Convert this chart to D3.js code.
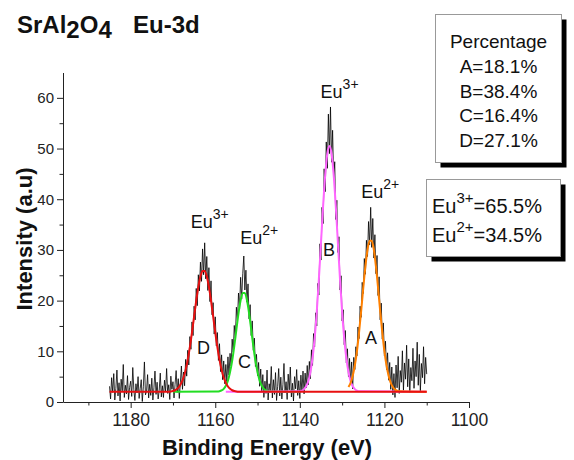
<!DOCTYPE html>
<html>
<head>
<meta charset="utf-8">
<script src="https://cdn.jsdelivr.net/npm/d3@7"></script>
<style>
  body { margin: 0; background: #fff; }
  text { font-family: "Liberation Sans", Arial, sans-serif; }
</style>
</head>
<body>
<script>
// raw spectrum, 1185 -> 1110 eV in 0.25 eV steps
const energyStart = 1185;
const energyStep = 0.25;
const intensity = [
  3.1, 0.6, 4.8, 1.9, 5.6, 0.4, 2.7, 6.3, 1.2, 3.8, 0.2, 4.5, 2.2, 7.4, 0.9, 3.3, 1.6, 5.2, 0.5, 2.9,
  4.1, 1.1, 6.8, 2.4, 0.3, 3.6, 1.8, 5.0, 0.7, 2.6, 4.4, 0.1, 3.0, 7.9, 1.4, 2.1, 5.4, 0.8, 3.5, 1.3,
  4.7, 0.4, 2.8, 6.1, 1.5, 3.9, 0.6, 2.3, 5.7, 1.0, 3.2, 0.9, 4.3, 2.0, 6.6, 1.7, 3.4, 0.5, 5.1, 2.5,
  4.0, 0.8, 3.5, 6.2, 1.9, 4.6, 0.7, 3.8, 7.1, 2.5, 5.9, 3.2, 8.4, 5.1, 10.2, 7.3, 12.9, 10.4, 15.8, 13.1,
  18.9, 16.2, 22.4, 19.0, 25.1, 21.9, 27.6, 23.8, 30.2, 25.1, 31.4, 24.3, 28.7, 22.0, 26.5, 19.8, 23.9, 17.2, 19.6, 13.4,
  16.8, 11.1, 13.7, 8.2, 11.5, 6.0, 9.3, 4.4, 8.1, 3.6, 7.4, 4.0, 8.9, 5.3, 9.6, 7.1, 12.4, 9.8, 15.1, 12.6,
  18.7, 16.0, 21.5, 18.4, 24.6, 20.3, 25.3, 28.8, 22.1, 26.0, 19.7, 23.3, 16.4, 19.2, 13.1, 16.0, 10.2, 12.6, 7.0, 9.4,
  5.2, 7.8, 3.1, 6.5, 2.0, 5.4, 0.9, 4.1, 1.7, 6.3, 0.4, 3.6, 2.2, 7.0, 0.8, 4.4, 1.5, 5.8, 0.3, 3.1,
  6.6, 1.2, 4.9, 0.6, 3.4, 7.6, 1.8, 4.0, 0.5, 5.5, 2.4, 6.9, 1.0, 3.7, 0.2, 5.0, 2.6, 6.4, 1.3, 4.2,
  0.7, 5.3, 2.0, 6.1, 1.6, 5.7, 2.8, 7.2, 3.4, 8.0, 4.6, 10.3, 7.2, 13.5, 10.9, 17.6, 15.0, 23.4, 21.1, 31.2,
  28.0, 38.4, 35.2, 46.0, 41.5, 51.3, 46.1, 56.8, 49.0, 58.2, 47.3, 53.6, 43.9, 47.4, 36.0, 39.8, 29.5, 32.6, 22.1, 24.9,
  16.0, 18.2, 11.3, 14.1, 7.7, 10.5, 5.0, 8.6, 3.8, 7.9, 2.6, 8.8, 6.4, 10.9, 9.1, 14.8, 12.5, 18.9, 16.7, 23.6,
  21.4, 28.3, 25.2, 31.9, 28.7, 35.6, 31.0, 38.4, 30.5, 36.2, 28.4, 33.0, 25.3, 28.9, 21.0, 24.7, 16.2, 19.5, 12.4, 15.6,
  9.1, 12.0, 6.4, 9.7, 4.3, 7.8, 2.5, 6.9, 1.4, 5.6, 0.9, 7.3, 2.8, 9.0, 1.7, 6.2, 3.9, 10.1, 2.3, 7.7,
  4.5, 11.2, 3.0, 8.5, 1.9, 6.8, 4.2, 10.6, 2.7, 8.1, 5.0, 11.8, 3.3, 9.4, 2.1, 7.6, 4.8, 10.9, 3.6, 8.8,
  5.5
];

// fitted components, 0.5 eV steps over each peak window
const fitStep = 0.5;
const baseline = 2;
const peakNames = ["C", "B", "A", "D"]; // drawing order, D on top
const fitStarts = [1159.5, 1140, 1128.5, 1171];
const fitExtents = [[1170, 1140], [1157.5, 1110], [1128.5, 1110], [1185, 1110]];
const fitC = [2.05, 2.12, 2.28, 2.6, 3.2, 4.2, 5.9, 8.1, 11.0, 14.3, 17.5, 20.06, 21.5, 21.5, 20.06, 17.5, 14.3, 11.0, 8.1, 5.9, 4.2, 3.2, 2.6, 2.28, 2.12, 2.05];
const fitB = [2.1, 2.25, 2.54, 3.1, 4.1, 5.9, 8.6, 12.5, 17.7, 24.2, 31.4, 38.6, 44.8, 49.0, 50.5, 49.0, 44.8, 38.6, 31.4, 24.2, 17.7, 12.5, 8.6, 5.9, 4.1, 3.1, 2.54, 2.25, 2.1];
const fitA = [2.96, 3.79, 5.15, 7.2, 10.0, 13.7, 17.9, 22.5, 26.7, 30.0, 31.8, 31.8, 30.0, 26.7, 22.5, 17.9, 13.7, 10.0, 7.2, 5.15, 3.79, 2.96, 2.48, 2.23, 2.1];
const fitD = [2.04, 2.08, 2.17, 2.32, 2.6, 3.05, 3.8, 4.83, 6.34, 8.36, 10.83, 13.74, 16.88, 19.98, 22.71, 24.75, 25.86, 25.86, 24.75, 22.71, 19.98, 16.88, 13.74, 10.83, 8.36, 6.34, 4.83, 3.8, 3.05, 2.6, 2.32, 2.17, 2.08, 2.04];
const fitValues = [fitC, fitB, fitA, fitD];

// peak annotations: label, energy, intensity
const letterPos = [["D", 1162.8, 9.5], ["C", 1153.1, 6.8], ["B", 1133.1, 28.8], ["A", 1123.2, 11.4]];
const ionLabels = [["3+", 1161.3, 34.4], ["2+", 1149.6, 31.2], ["3+", 1130.6, 60.0], ["2+", 1121.0, 40.3]];

const percentLines = ["Percentage", "A=18.1%", "B=38.4%", "C=16.4%", "D=27.1%"];
const ratioLines = [["3+", "=65.5%"], ["2+", "=34.5%"]];

const xTicks = [1180, 1160, 1140, 1120, 1100];
const xMinor = [1190, 1170, 1150, 1130, 1110];
const yTicks = [0, 10, 20, 30, 40, 50, 60];
const yMinor = [5, 15, 25, 35, 45, 55];

const colors = { A: "#ff8000", B: "#ff66ff", C: "#22dd22", D: "#e81010" };

const width = 574;
const height = 460;

let svg = d3.select("body").append("svg")
  .attr("width", width)
  .attr("height", height);

let x = d3.scaleLinear().domain([1196, 1100]).range([63, 469]);
let y = d3.scaleLinear().domain([0, 65]).range([402, 72.5]);

// axes
let xAxis = svg.append("g").attr("transform", `translate(0, ${y(0)})`)
  .call(d3.axisBottom(x).tickValues(xTicks).tickFormat(d3.format("d"))
    .tickSize(6).tickSizeOuter(0).tickPadding(6));
svg.append("g").attr("transform", `translate(0, ${y(0)})`)
  .call(d3.axisBottom(x).tickValues(xMinor).tickSize(3.5).tickSizeOuter(0).tickFormat(""))
  .select(".domain").remove();
let yAxis = svg.append("g").attr("transform", `translate(${x(1196)}, 0)`)
  .call(d3.axisLeft(y).tickValues(yTicks).tickSize(6).tickSizeOuter(0).tickPadding(3));
svg.append("g").attr("transform", `translate(${x(1196)}, 0)`)
  .call(d3.axisLeft(y).tickValues(yMinor).tickSize(3.5).tickSizeOuter(0).tickFormat(""))
  .select(".domain").remove();

svg.selectAll(".domain").attr("stroke", "#222");
svg.selectAll(".tick line").attr("stroke", "#222");
xAxis.selectAll("text").style("font-size", "17.5px").attr("fill", "#222")
  .style("font-family", '"Liberation Sans", Arial, sans-serif');
yAxis.selectAll("text").style("font-size", "15px").attr("fill", "#222")
  .style("font-family", '"Liberation Sans", Arial, sans-serif');

// raw spectrum
let line = d3.line()
  .x((d, i) => x(energyStart - i * energyStep))
  .y((d) => y(d));

svg.append("path")
  .datum(intensity)
  .attr("d", line)
  .attr("fill", "none")
  .attr("stroke", "#000")
  .attr("stroke-width", 0.8);

// fitted peaks
let fitLine = d3.line()
  .x((d) => x(d[0]))
  .y((d) => y(d[1]))
  .curve(d3.curveMonotoneX);

peakNames.forEach((name, k) => {
  let pts = fitValues[k].map((v, i) => [fitStarts[k] - i * fitStep, v]);
  let ext = fitExtents[k];
  if (ext[0] > pts[0][0]) pts.unshift([ext[0], baseline]);
  if (ext[1] < pts[pts.length - 1][0]) pts.push([ext[1], baseline]);
  svg.append("path")
    .datum(pts)
    .attr("d", fitLine)
    .attr("fill", "none")
    .attr("stroke", colors[name])
    .attr("stroke-width", 2);
});

// letters under peaks
svg.selectAll(".peak-letter")
  .data(letterPos)
  .join("text")
  .attr("class", "peak-letter")
  .attr("x", (d) => x(d[1]))
  .attr("y", (d) => y(d[2]))
  .attr("text-anchor", "middle")
  .style("font-size", "18px")
  .attr("fill", "#111")
  .text((d) => d[0]);

// Eu labels over peaks
ionLabels.forEach((d) => {
  let t = svg.append("text")
    .attr("x", x(d[1]))
    .attr("y", y(d[2]))
    .attr("text-anchor", "middle")
    .style("font-size", "18px")
    .attr("fill", "#111");
  t.append("tspan").text("Eu");
  t.append("tspan").attr("dy", -9).style("font-size", "14px").text(d[0]);
});

// title
let title = svg.append("text")
  .attr("x", 17)
  .attr("y", 33)
  .style("font-size", "24px")
  .style("font-weight", "bold")
  .attr("fill", "#111");
title.append("tspan").text("SrAl");
title.append("tspan").attr("dy", 5).text("2");
title.append("tspan").attr("dy", -5).text("O");
title.append("tspan").attr("dy", 5).text("4");
title.append("tspan").attr("dy", -5).attr("x", 133).text("Eu-3d");

// axis titles
svg.append("text")
  .attr("x", 267)
  .attr("y", 455)
  .attr("text-anchor", "middle")
  .style("font-size", "22px")
  .style("font-weight", "bold")
  .attr("fill", "#111")
  .text("Binding Energy (eV)");

svg.append("text")
  .attr("transform", "translate(32, 239) rotate(-90)")
  .attr("text-anchor", "middle")
  .style("font-size", "22px")
  .style("font-weight", "bold")
  .attr("fill", "#111")
  .text("Intensity (a.u)");

// boxes with drop shadow
function shadowBox(x0, y0, w, h) {
  svg.append("rect")
    .attr("x", x0 + 5).attr("y", y0 + 5)
    .attr("width", w).attr("height", h)
    .attr("fill", "#000");
  svg.append("rect")
    .attr("x", x0).attr("y", y0)
    .attr("width", w).attr("height", h)
    .attr("fill", "#fff")
    .attr("stroke", "#999")
    .attr("stroke-width", 1);
}

shadowBox(435.5, 14.5, 126, 148);
svg.selectAll(".pct")
  .data(percentLines)
  .join("text")
  .attr("class", "pct")
  .attr("x", 498.5)
  .attr("y", (d, i) => 48 + i * 24.75)
  .attr("text-anchor", "middle")
  .style("font-size", "19px")
  .attr("fill", "#111")
  .text((d) => d);

shadowBox(426.5, 179.5, 134, 77);
ratioLines.forEach((d, i) => {
  let t = svg.append("text")
    .attr("x", 432)
    .attr("y", 213 + i * 29)
    .style("font-size", "20px")
    .attr("fill", "#111");
  t.append("tspan").text("Eu");
  t.append("tspan").attr("dy", -10).style("font-size", "15px").text(d[0]);
  t.append("tspan").attr("dy", 10).text(d[1]);
});
</script>
</body>
</html>
